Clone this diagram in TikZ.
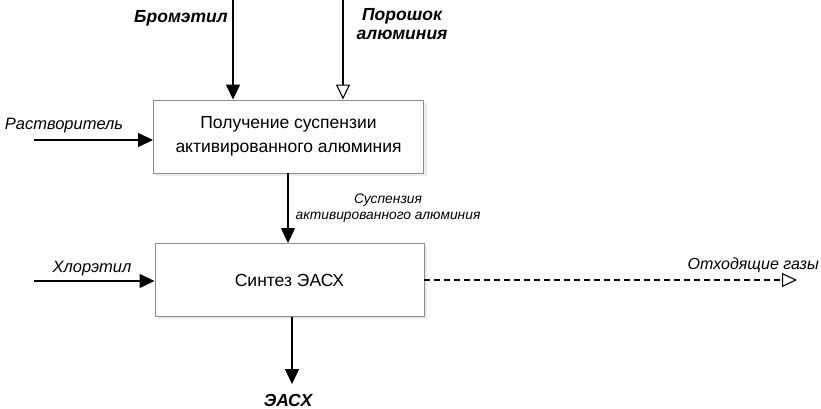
\documentclass[tikz,border=0pt]{standalone}
\usepackage{fontspec}
\setmainfont{Liberation Sans}
\usetikzlibrary{arrows.meta}
\begin{document}
\begin{tikzpicture}[x=1pt,y=-1pt,
  proc/.style={draw=black!45,line width=0.9pt,fill=white,minimum width=270pt,minimum height=73pt,inner sep=0pt,align=center,font=\fontsize{17.5}{24}\selectfont},
  flow/.style={line width=1.4pt,-{Triangle[length=15pt,width=14pt]}},
  oflow/.style={line width=1.1pt,-{Triangle[open,length=15pt,width=14pt,line width=1.1pt]}},
  lab/.style={font=\fontsize{16.5}{19}\selectfont\itshape,inner sep=0pt},
  blab/.style={font=\fontsize{17.5}{19}\selectfont\bfseries\itshape,inner sep=0pt,align=center},
  slab/.style={font=\fontsize{13.8}{16}\selectfont\itshape,inner sep=0pt,align=center}]
\useasboundingbox (0,0) rectangle (821,409);
% shadows
\fill[black!8] (156,103) rectangle (427,176);
\fill[black!8] (158,246) rectangle (427,319);
\node[proc] (b1) at (288.5,136.5) {Получение суспензии\\активированного алюминия};
\node[proc,minimum width=269pt] (b2) at (289.5,280) {Синтез ЭАСХ};
\coordinate (bromtop) at (233,0);
\coordinate (powtop) at (343,0);
\coordinate (rastv) at (34,140);
\coordinate (chlor) at (34,281);
\coordinate (eash) at (292,384);
\coordinate (gas) at (797,280);
\draw[flow] (bromtop) -- (bromtop |- b1.north);
\draw[oflow] (powtop) -- (powtop |- b1.north);
\draw[flow] (rastv) -- (rastv -| b1.west);
\draw[flow] (b1.south -| 288,0) -- (b2.north -| 288,0);
\draw[flow] (chlor) -- (chlor -| b2.west);
\draw[flow] (b2.south -| eash) -- (eash);
\draw[line width=1.1pt,dash pattern=on 6pt off 4pt] (b2.east) -- ([xshift=-15pt]gas);
\draw[oflow] ([xshift=-15.5pt]gas) -- (gas);
\node[blab] (lbrom) at (181,18) {Бромэтил};
\node[blab] (lpow) at (402,24) {Порошок\\алюминия};
\node[lab] (lrast) at (64,126) {Растворитель};
\node[slab] (lsus) at (388,208) {Суспензия\\активированного алюминия};
\node[lab] (lchl) at (92,269) {Хлорэтил};
\node[lab,anchor=east,font=\fontsize{16}{19}\selectfont\itshape] (lgas) at (819,265) {Отходящие газы};
\node[blab] (leash) at (288,400) {ЭАСХ};
\end{tikzpicture}
\end{document}
